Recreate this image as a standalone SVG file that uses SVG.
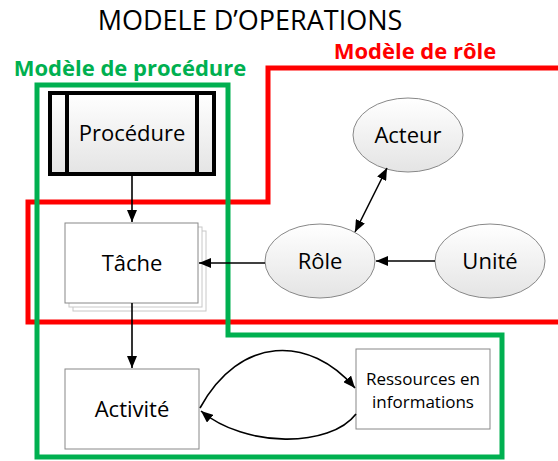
<svg xmlns="http://www.w3.org/2000/svg" width="558" height="461" viewBox="0 0 558 461">
<defs>
<linearGradient id="g" x1="0" y1="0" x2="0" y2="1"><stop offset="0" stop-color="#ffffff"/><stop offset="1" stop-color="#e4e4e4"/></linearGradient>
<marker id="ah" viewBox="0 0 12 10" refX="12" refY="5" markerWidth="12" markerHeight="10" markerUnits="userSpaceOnUse" orient="auto-start-reverse"><path d="M0,0 L12,5 L0,10 z" fill="#000"/></marker>
<style>
text{font-family:"Open Sans","Liberation Sans",sans-serif;fill:#000;text-anchor:middle}
.t{font-size:22px}
.box{fill:#fff;stroke:#888;stroke-width:1}
.sh{fill:#fff;stroke:#c8c8c8;stroke-width:1}
.ell{fill:url(#g);stroke:#888;stroke-width:1}
.c{fill:none;stroke:#000;stroke-width:1.6}
</style>
</defs>
<rect width="558" height="461" fill="#fff"/>
<text x="250" y="30" style="font-size:27px">MODELE D’OPERATIONS</text>
<g id="zone-role">
<polyline points="558,68 268,68 268,202 28,202 28,322 558,322" fill="none" stroke="#ff0000" stroke-width="5"/>
<text x="415" y="59" style="font-size:22px;font-weight:bold;fill:#ff0000">Modèle de rôle</text>
</g>
<g id="zone-procedure">
<polygon points="37,85 228,85 228,335 502,335 502,457 37,457" fill="none" stroke="#00b050" stroke-width="5"/>
<text x="130" y="76" style="font-size:22px;font-weight:bold;fill:#00b050">Modèle de procédure</text>
</g>
<g id="procedure">
<rect x="50" y="93" width="164" height="81" fill="url(#g)" stroke="#000" stroke-width="4"/>
<line x1="67" y1="93" x2="67" y2="174" stroke="#000" stroke-width="4"/>
<line x1="197" y1="93" x2="197" y2="174" stroke="#000" stroke-width="4"/>
<text class="t" x="132" y="141">Procédure</text>
</g>
<g id="tache">
<rect class="sh" x="73" y="231" width="133" height="80"/>
<rect class="sh" x="69" y="227" width="133" height="80"/>
<rect class="box" x="65" y="223" width="133" height="80"/>
<text class="t" x="132" y="271">Tâche</text>
</g>
<g id="activite">
<rect class="box" x="65" y="369" width="134" height="80"/>
<text class="t" x="132" y="417">Activité</text>
</g>
<g id="ressources">
<rect class="box" x="356" y="349" width="134" height="80"/>
<text x="423" y="385" style="font-size:17px">Ressources en</text>
<text x="423" y="408" style="font-size:17px">informations</text>
</g>
<g id="acteur">
<ellipse class="ell" cx="408" cy="135" rx="55" ry="37"/>
<text class="t" x="408" y="143">Acteur</text>
</g>
<g id="role">
<ellipse class="ell" cx="320" cy="261" rx="55" ry="37"/>
<text class="t" x="320" y="269">Rôle</text>
</g>
<g id="unite">
<ellipse class="ell" cx="490" cy="261" rx="55" ry="37"/>
<text class="t" x="490" y="269">Unité</text>
</g>
<g id="connectors">
<line class="c" x1="132" y1="175" x2="132" y2="222" marker-end="url(#ah)"/>
<line class="c" x1="132" y1="303" x2="132" y2="368" marker-end="url(#ah)"/>
<line class="c" x1="265" y1="263" x2="199" y2="263" marker-end="url(#ah)"/>
<line class="c" x1="435" y1="261" x2="376" y2="261" marker-end="url(#ah)"/>
<line class="c" x1="355" y1="232" x2="387" y2="168" marker-start="url(#ah)" marker-end="url(#ah)"/>
<path class="c" d="M200,408 C240,335 310,335 355,388" marker-end="url(#ah)"/>
<path class="c" d="M356,414 C330,448 245,448 201,411" marker-end="url(#ah)"/>
</g>
</svg>
